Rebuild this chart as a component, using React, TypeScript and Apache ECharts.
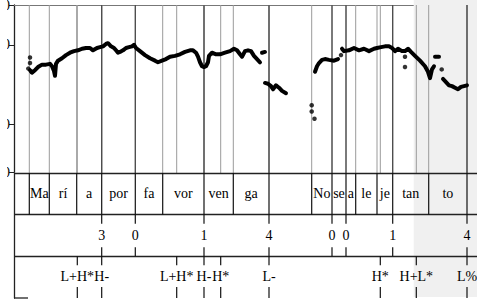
import React, { useEffect, useRef } from "react";
import * as echarts from "echarts";

// ---- data ----
const T_MAX = 2.315; // seconds shown
const PITCH_MIN = 40;
const PITCH_MAX = 250;
const pitchTicks = [40, 100, 200, 250];
const shadeStart = 1.9985;

// pitch contour segments [time s, F0 Hz]
const seg1: [number, number][] = [
  [0.08, 168], [0.09, 165], [0.105, 168], [0.12, 172], [0.14, 175], [0.16, 175], [0.18, 176], [0.19, 173],
  [0.2, 167], [0.205, 161], [0.21, 176], [0.22, 180], [0.24, 183], [0.26, 187], [0.28, 190], [0.3, 192],
  [0.32, 193], [0.34, 195], [0.36, 196], [0.38, 196], [0.395, 193], [0.415, 196], [0.43, 197], [0.445, 198],
  [0.46, 201], [0.47, 202], [0.485, 198], [0.5, 196], [0.51, 193], [0.52, 190], [0.53, 191], [0.545, 193],
  [0.56, 196], [0.575, 197], [0.59, 198], [0.6, 200], [0.61, 196], [0.63, 192], [0.655, 187], [0.68, 183],
  [0.705, 180], [0.72, 178], [0.74, 180], [0.76, 182], [0.78, 185], [0.805, 186], [0.83, 188], [0.855, 191],
  [0.88, 193], [0.895, 193], [0.91, 190], [0.92, 185], [0.93, 178], [0.94, 173], [0.95, 172], [0.96, 173],
  [0.97, 178], [0.975, 186], [0.99, 190], [1.01, 188], [1.03, 188], [1.055, 190], [1.08, 192], [1.1, 195],
  [1.115, 193], [1.13, 188], [1.14, 185], [1.155, 192], [1.17, 193], [1.185, 192], [1.2, 186], [1.215, 182],
  [1.23, 178],
];
const seg2: [number, number][] = [[1.24, 190], [1.255, 191]];
const seg3: [number, number][] = [
  [1.255, 152], [1.27, 151], [1.285, 148], [1.295, 144], [1.31, 149], [1.325, 146], [1.34, 142], [1.36, 139],
];
const seg4: [number, number][] = [
  [1.505, 166], [1.515, 173], [1.525, 177], [1.54, 181], [1.555, 182], [1.575, 181], [1.6, 180], [1.62, 182],
];
const seg5: [number, number][] = [
  [1.64, 195], [1.65, 192], [1.675, 193], [1.7, 196], [1.725, 193], [1.75, 195], [1.775, 192], [1.8, 195],
  [1.815, 196], [1.835, 197], [1.855, 198], [1.875, 198], [1.89, 196], [1.905, 192], [1.92, 195], [1.94, 192],
  [1.955, 192], [1.97, 195], [1.985, 191], [2.005, 186], [2.03, 180], [2.055, 173], [2.07, 166], [2.08, 158],
  [2.09, 169], [2.1, 173],
];
const seg6: [number, number][] = [[2.105, 185], [2.125, 185]];
const seg7: [number, number][] = [
  [2.145, 157], [2.16, 153], [2.175, 149], [2.19, 148], [2.205, 146], [2.22, 144], [2.235, 147], [2.25, 148],
  [2.265, 149],
];
const pitchSegments = [seg1, seg2, seg3, seg4, seg5, seg6, seg7];
const pitchDots: [number, number][] = [
  [0.08, 184], [0.08, 177], [0.0715, 170], [0.0885, 166],
  [1.4885, 124], [1.4885, 116], [1.5025, 107],
  [1.635, 187], [1.955, 185], [1.955, 172], [2.1385, 169],
];

// tier 1: syllables [start, end, text]
const syllables: [number, number, string][] = [
  [0, 0.0765, ""], [0.0765, 0.1765, "Ma"], [0.1765, 0.3135, "rí"], [0.3135, 0.4385, "a"],
  [0.4385, 0.6065, "por"], [0.6065, 0.7435, "fa"], [0.7435, 0.95, "vor"], [0.95, 1.0965, "ven"],
  [1.0965, 1.275, "ga"], [1.275, 1.4885, ""], [1.4885, 1.59, "No"], [1.59, 1.66, "se"],
  [1.66, 1.7085, "a"], [1.7085, 1.815, "le"], [1.815, 1.8935, "je"], [1.8935, 2.0735, "tan"],
  [2.0735, 2.265, "to"], [2.265, T_MAX, ""],
];
// tier 2: break indices
const breakTimes = [0.4385, 0.6065, 0.95, 1.275, 1.59, 1.66, 1.8935, 2.265];
const breakLabels = ["3", "0", "1", "4", "0", "0", "1", "4"];
// tier 3: tones
const toneTimes = [0.3165, 0.4385, 0.8135, 0.95, 1.0335, 1.275, 1.8315, 2.0115, 2.265];
const toneLabels = ["L+H*", "H-", "L+H*", "H-", "H*", "L-", "H*", "H+L*", "L%"];

const FAMILY = "Liberation Serif";
const FSIZE = 14;

export default function App() {
  const ref = useRef<HTMLDivElement>(null);
  useEffect(() => {
    if (!ref.current) return;
    const chart = echarts.init(ref.current, undefined, { renderer: "svg" });

    const grayLines = [
      ...syllables.filter((s) => s[1] < T_MAX).map((s) => s[1]),
      ...toneTimes,
    ];

    const txt = (text: string, x: number, y: number) => ({
      type: "text",
      style: {
        text, x, y, align: "center", verticalAlign: "middle",
        fontFamily: FAMILY, fontSize: FSIZE, fill: "#000",
      },
    });

    const vlineSeries = (times: number[], color: string, width: number) => ({
      type: "custom",
      xAxisIndex: 0,
      yAxisIndex: 0,
      z: 2,
      silent: true,
      data: times.map((t) => [t, PITCH_MAX]),
      renderItem: (_p: any, api: any) => {
        const a = api.coord([api.value(0), PITCH_MAX]);
        const b = api.coord([api.value(0), PITCH_MIN]);
        return {
          type: "line",
          shape: { x1: a[0], y1: a[1], x2: b[0], y2: b[1] + 1 },
          style: { stroke: color, lineWidth: width },
        };
      },
    });

    const option: any = {
      animation: false,
      grid: [
        { left: 7, right: 0, top: 5, height: 167, outerBoundsMode: "none", containLabel: false },
        { left: 7, right: 0, top: 173, height: 125, outerBoundsMode: "none", containLabel: false },
        { left: 7, right: 0, top: 0, height: 297, outerBoundsMode: "none", containLabel: false },
      ],
      xAxis: [
        {
          gridIndex: 0, type: "value", min: 0, max: T_MAX, position: "top",
          axisLine: { show: true, lineStyle: { color: "#777", width: 1 } },
          axisTick: { show: false }, axisLabel: { show: false }, splitLine: { show: false },
        },
        { gridIndex: 1, type: "value", min: 0, max: T_MAX, show: false },
        { gridIndex: 2, type: "value", min: 0, max: T_MAX, show: false },
      ],
      yAxis: [
        {
          gridIndex: 0, type: "value", min: PITCH_MIN, max: PITCH_MAX,
          axisLine: { show: true, lineStyle: { color: "#222", width: 1.3 } },
          axisTick: { show: true, length: 5, customValues: pitchTicks, lineStyle: { color: "#222" } },
          axisLabel: {
            show: true, customValues: pitchTicks, margin: 4, color: "#000",
            fontFamily: FAMILY, fontSize: FSIZE,
          },
          splitLine: { show: false },
        },
        {
          gridIndex: 1, type: "value", min: 0, max: 3, interval: 1, inverse: true, z: 3,
          axisLine: { show: true, lineStyle: { color: "#222", width: 1.3 } },
          axisTick: { show: false }, axisLabel: { show: false },
          splitLine: { show: true, showMaxLine: false, lineStyle: { color: "#222", width: 1.4 } },
        },
        { gridIndex: 2, type: "value", min: 0, max: 1, show: false },
      ],
      series: [
        // shaded selection
        {
          type: "custom", xAxisIndex: 2, yAxisIndex: 2, z: 1, silent: true,
          data: [[shadeStart, T_MAX]],
          renderItem: (_p: any, api: any) => {
            const a = api.coord([api.value(0), 1]);
            const b = api.coord([api.value(1), 0]);
            return {
              type: "rect",
              shape: { x: a[0], y: a[1], width: b[0] - a[0] + 2, height: b[1] - a[1] },
              style: { fill: "#f0f0f0" },
            };
          },
        },
        vlineSeries(grayLines, "#9a9a9a", 1),
        vlineSeries(breakTimes, "#444", 1.2),
        ...pitchSegments.map((seg) => ({
          type: "line", xAxisIndex: 0, yAxisIndex: 0, z: 4, silent: true,
          data: seg, showSymbol: false,
          lineStyle: { color: "#000", width: 4, cap: "round", join: "round" },
        })),
        {
          type: "scatter", xAxisIndex: 0, yAxisIndex: 0, z: 4, silent: true,
          data: pitchDots, symbolSize: 4.5, itemStyle: { color: "#000" },
        },
        // tier 1: syllables
        {
          type: "custom", xAxisIndex: 1, yAxisIndex: 1, z: 4, silent: true,
          data: syllables.map((s) => [s[0], s[1]]),
          renderItem: (p: any, api: any) => {
            const s = api.value(0), e = api.value(1);
            const label = syllables[p.dataIndex][2];
            const a = api.coord([s, 0]);
            const b = api.coord([e, 1]);
            const children: any[] = [];
            if (e < T_MAX) {
              children.push({
                type: "line",
                shape: { x1: b[0], y1: a[1], x2: b[0], y2: b[1] },
                style: { stroke: "#111", lineWidth: 1.2 },
              });
            }
            if (label) children.push(txt(label, (a[0] + b[0]) / 2, (a[1] + b[1]) / 2));
            return { type: "group", children };
          },
        },
        // tier 2: break indices
        {
          type: "custom", xAxisIndex: 1, yAxisIndex: 1, z: 4, silent: true,
          data: breakTimes.map((t) => [t, 1]),
          renderItem: (p: any, api: any) => {
            const t = api.value(0);
            const a = api.coord([t, 1]);
            const b = api.coord([t, 2]);
            return {
              type: "group",
              children: [
                { type: "line", shape: { x1: a[0], y1: a[1], x2: a[0], y2: a[1] + 9 }, style: { stroke: "#111", lineWidth: 1.2 } },
                { type: "line", shape: { x1: b[0], y1: b[1] - 9, x2: b[0], y2: b[1] }, style: { stroke: "#111", lineWidth: 1.2 } },
                txt(breakLabels[p.dataIndex], a[0], (a[1] + b[1]) / 2),
              ],
            };
          },
        },
        // tier 3: tones
        {
          type: "custom", xAxisIndex: 1, yAxisIndex: 1, z: 4, silent: true,
          data: toneTimes.map((t) => [t, 2]),
          renderItem: (p: any, api: any) => {
            const t = api.value(0);
            const a = api.coord([t, 2]);
            const b = api.coord([t, 3]);
            return {
              type: "group",
              children: [
                { type: "line", shape: { x1: a[0], y1: a[1], x2: a[0], y2: a[1] + 9 }, style: { stroke: "#111", lineWidth: 1.2 } },
                { type: "line", shape: { x1: b[0], y1: b[1] - 11, x2: b[0], y2: b[1] }, style: { stroke: "#111", lineWidth: 1.2 } },
                txt(toneLabels[p.dataIndex], a[0], (a[1] + b[1]) / 2 - 1),
              ],
            };
          },
        },
        // bottom frame stub
        {
          type: "custom", xAxisIndex: 1, yAxisIndex: 1, z: 4, silent: true,
          data: [[0, 0.07]],
          renderItem: (_p: any, api: any) => {
            const a = api.coord([api.value(0), 3]);
            const b = api.coord([api.value(1), 3]);
            return {
              type: "line",
              shape: { x1: a[0], y1: a[1], x2: b[0], y2: b[1] },
              style: { stroke: "#222", lineWidth: 1.3 },
            };
          },
        },
      ],
    };
    chart.setOption(option);
    return () => chart.dispose();
  }, []);

  return (
    <div
      ref={ref}
      style={{ position: "absolute", left: 7, top: 0, width: 470, height: 301, overflow: "hidden" }}
    />
  );
}
